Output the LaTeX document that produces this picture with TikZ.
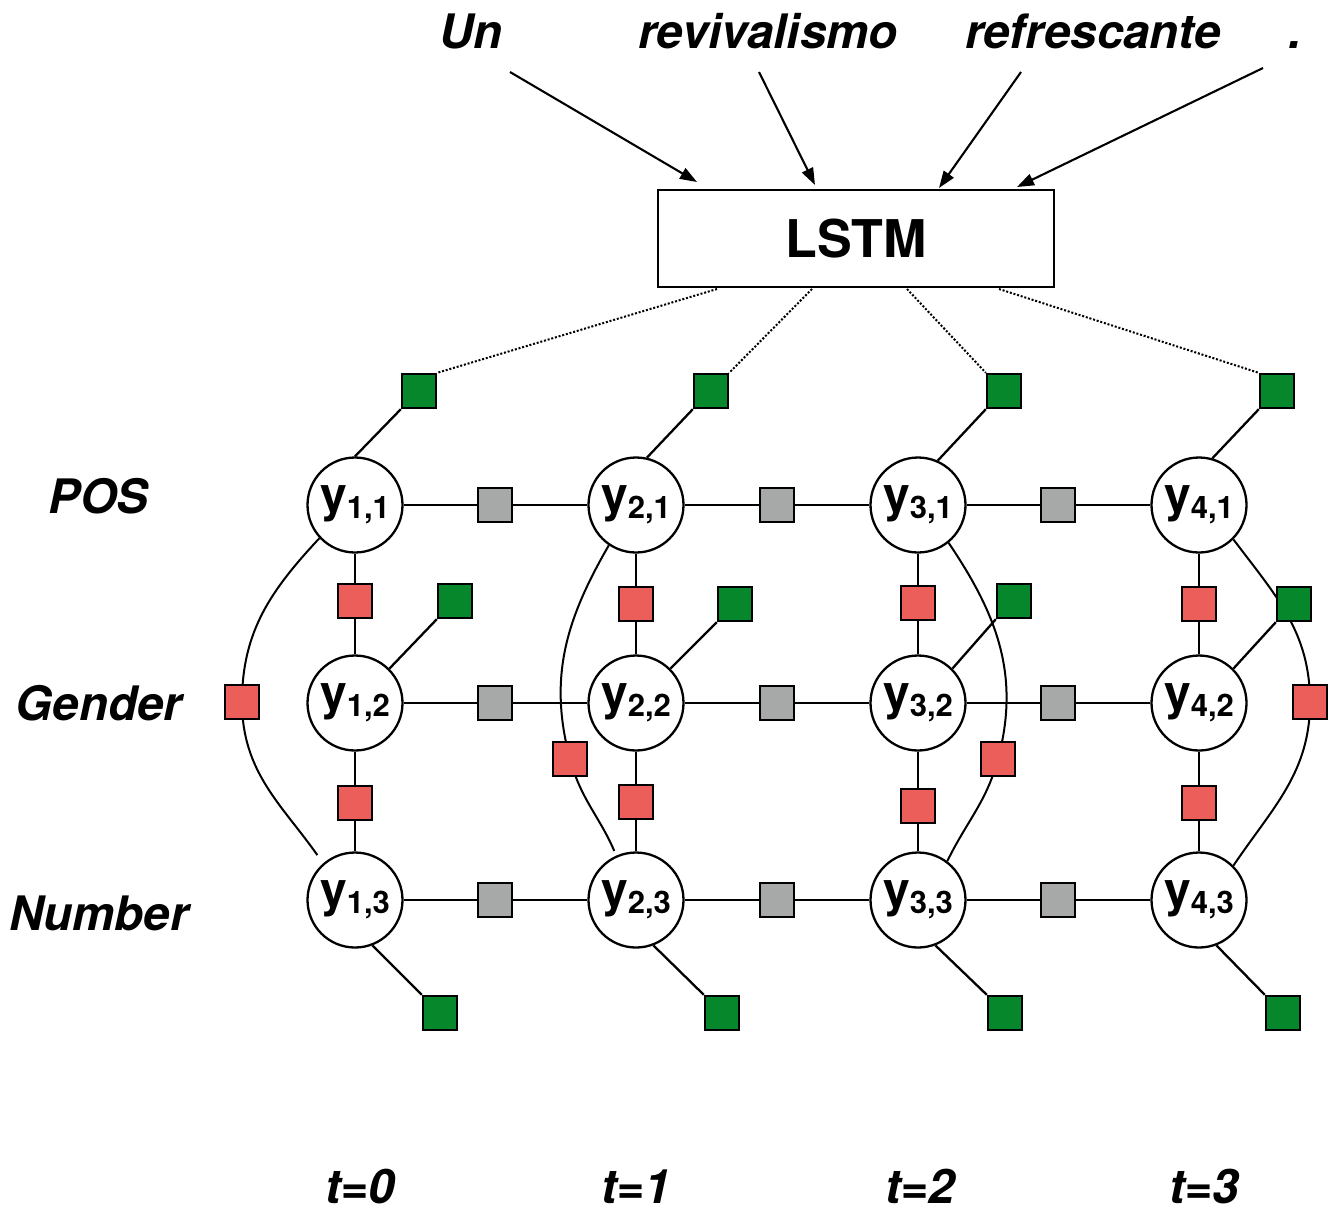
\documentclass[tikz,border=0pt]{standalone}
\usepackage{fontspec}
\setmainfont{TeX Gyre Heros}
\usetikzlibrary{arrows.meta,backgrounds}
\definecolor{fgreen}{RGB}{6,135,43}
\definecolor{fred}{RGB}{235,94,89}
\definecolor{fgray}{RGB}{166,169,167}
\newcommand{\yvar}[1]{{\fontsize{48}{48}\selectfont y}\raisebox{-7pt}{\fontsize{31}{31}\selectfont #1}}
\tikzset{
  var/.style={circle, draw, fill=white, line width=2.3pt, minimum size=95pt, inner sep=0pt, font=\bfseries},
  fac/.style={rectangle, draw, line width=2.3pt, minimum size=34pt, inner sep=0pt},
  gfac/.style={fac, fill=fgreen},
  rfac/.style={fac, fill=fred},
  pfac/.style={fac, fill=fgray},
  lab/.style={anchor=base, inner sep=0pt, font=\fontsize{47.5}{50}\selectfont\bfseries\itshape},
  conn/.style={line width=2.3pt},
  arc/.style={line width=2pt},
  dots/.style={line width=2pt, dash pattern=on 2pt off 1.8pt},
  arr/.style={line width=2.1pt, -{Triangle[length=17pt,width=12pt]}}
}
\begin{document}
\begin{tikzpicture}[x=1pt,y=1pt]
\useasboundingbox (0,0) rectangle (1338,-1227);

% words
\node[lab] (w1) at (471,-48) {Un};
\node[lab] (w2) at (768,-48) {revivalismo};
\node[lab] (w3) at (1093,-48) {refrescante};
\node[lab] (w4) at (1295,-48) {.};

% LSTM
\node[draw, line width=2.3pt, minimum width=396pt, minimum height=97pt, inner sep=0pt,
      font=\fontsize{52}{52}\selectfont\bfseries] (lstm) at (856,-238.5) {LSTM};

% row labels
\node[lab] (lpos) at (98.5,-513) {POS};
\node[lab] (lgen) at (99,-720) {Gender};
\node[lab] (lnum) at (99,-930) {Number};

% time labels
\node[lab] (t0) at (360,-1203) {t=0};
\node[lab] (t1) at (636,-1203) {t=1};
\node[lab] (t2) at (920,-1203) {t=2};
\node[lab] (t3) at (1204,-1203) {t=3};

% variables
\foreach \i/\x in {1/355,2/636,3/918,4/1199}{
  \node[var] (y\i1) at (\x,-505) {\yvar{\i,1}};
  \node[var] (y\i2) at (\x,-703) {\yvar{\i,2}};
  \node[var] (y\i3) at (\x,-900) {\yvar{\i,3}};
}

% gray pairwise factors
\foreach \i/\x in {1/495,2/777,3/1058}{
  \node[pfac] (h\i1) at (\x,-505) {};
  \node[pfac] (h\i2) at (\x,-703) {};
  \node[pfac] (h\i3) at (\x,-900) {};
}

% red vertical factors
\foreach \i/\x/\ya/\yb in {1/355/601/803, 2/636/604/802, 3/918/603/806, 4/1199/604/803}{
  \node[rfac] (va\i) at (\x,-\ya) {};
  \node[rfac] (vb\i) at (\x,-\yb) {};
}

% red arc factors
\node[rfac] (ra1) at (242,-702) {};
\node[rfac] (ra2) at (570,-759) {};
\node[rfac] (ra3) at (998,-759) {};
\node[rfac] (ra4) at (1310,-702) {};

% green unary factors
\node[gfac] (gt1) at (419,-391) {};
\node[gfac] (gt2) at (711,-391) {};
\node[gfac] (gt3) at (1004,-391) {};
\node[gfac] (gt4) at (1277,-391) {};
\node[gfac] (gg1) at (455,-601) {};
\node[gfac] (gg2) at (735,-604) {};
\node[gfac] (gg3) at (1014,-601) {};
\node[gfac] (gg4) at (1294,-604) {};
\node[gfac] (gb1) at (440,-1013) {};
\node[gfac] (gb2) at (722,-1013) {};
\node[gfac] (gb3) at (1005,-1013) {};
\node[gfac] (gb4) at (1283,-1013) {};

% arrow / dotted endpoints
\coordinate (s1) at (510,-72);  \coordinate (e1) at (697,-182);
\coordinate (s2) at (759,-72);  \coordinate (e2) at (815,-185);
\coordinate (s3) at (1021,-72); \coordinate (e3) at (939,-188);
\coordinate (s4) at (1263,-68); \coordinate (e4) at (1017,-187);
\coordinate (d1) at (717,-289);
\coordinate (d2) at (812,-289);
\coordinate (d3) at (907,-289);
\coordinate (d4) at (999,-289);

\begin{pgfonlayer}{background}
  \fill[white] (0,0) rectangle (1338,-1227);
  % input arrows
  \foreach \k in {1,2,3,4}{ \draw[arr] (s\k) -- (e\k); }
  % dotted LSTM outputs
  \draw[dots] (d1) -- (gt1.north east);
  \draw[dots] (d2) -- (gt2.north east);
  \draw[dots] (d3) -- (gt3.north west);
  \draw[dots] (d4) -- (gt4.north west);
  % horizontal chains
  \foreach \i/\j in {1/2,2/3,3/4}{
    \foreach \r in {1,2,3}{
      \draw[conn] (y\i\r) -- (h\i\r) -- (y\j\r);
    }
  }
  % vertical chains
  \foreach \i in {1,2,3,4}{
    \draw[conn] (y\i1) -- (va\i) -- (y\i2) -- (vb\i) -- (y\i3);
  }
  % unary links
  \draw[conn] (y11.90) -- (gt1.south west);
  \draw[conn] (y21.77) -- (gt2.south west);
  \draw[conn] (y31.66) -- (gt3.south west);
  \draw[conn] (y41.74) -- (gt4.south west);
  \foreach \i in {1,2,3,4}{
    \draw[conn] (y\i2.45) -- (gg\i.south west);
    \draw[conn] (y\i3.-69) -- (gb\i.north west);
  }
  % long-range arcs
  \draw[arc] (y11.223) to[out=227,in=90] (ra1.center);
  \draw[arc, shorten >=10pt] (ra1.center) to[out=270,in=125] (y13.131);
  \draw[arc] (y21.236) to[out=240,in=105] (ra2.center);
  \draw[arc, shorten >=5pt] (ra2.center) to[out=285,in=113] (y23.114);
  \draw[arc] (y31.309) to[out=-56,in=75] (ra3.center);
  \draw[arc] (ra3.center) to[out=255,in=64] (y33.53);
  \draw[arc] (y41.315) to[out=-53,in=90] (ra4.center);
  \draw[arc] (ra4.center) to[out=270,in=56] (y43.45);
\end{pgfonlayer}
\end{tikzpicture}
\end{document}
